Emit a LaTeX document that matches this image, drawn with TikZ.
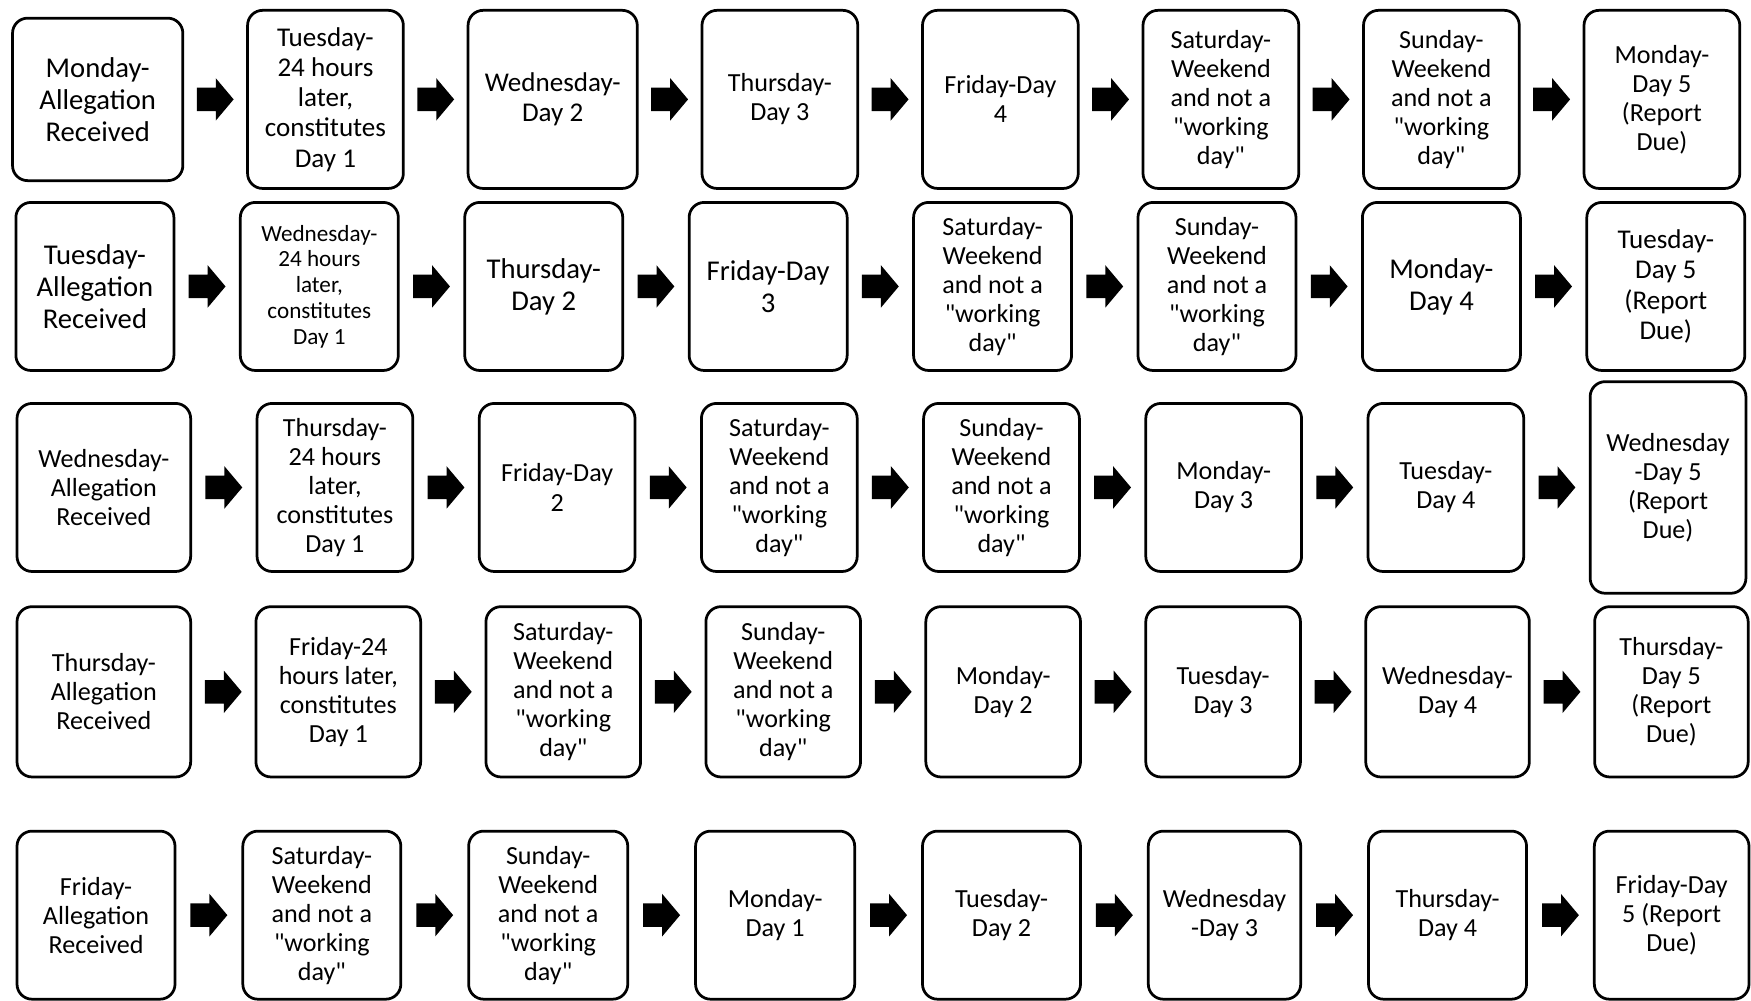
\documentclass[tikz,border=0pt]{standalone}
\usepackage{fontspec}
\setmainfont{Carlito}[Ligatures=TeXOff]
\usepackage{tikz}
\usetikzlibrary{positioning,calc}

\newcommand{\fmid}{\fontsize{13.3}{14.8}\selectfont}
\newcommand{\fplus}{\fontsize{13.8}{15.4}\selectfont}
\newcommand{\fbig}{\fontsize{14.6}{16.3}\selectfont}
\newcommand{\fsmall}{\fontsize{11.8}{13.1}\selectfont}

\begin{document}
\begin{tikzpicture}[
	box/.style={draw, rectangle, rounded corners=0.27cm, line width=1.4pt, align=center, minimum width=2.79cm, minimum height=3.01cm, inner sep=1pt, font=\fmid},
	flow/.style={fill=black, to path={($(\tikztostart.east)!0.5!(\tikztotarget.west)$) ++(-0.33,0.21) -- ++(0.34,0) -- ++(0,0.17) -- ++(0.32,-0.38) -- ++(-0.32,-0.38) -- ++(0,0.17) -- ++(-0.34,0) -- cycle}}
	]
	\useasboundingbox (0,0) rectangle (31.36,-17.92);
	
	%==================== Monday ====================
	\begin{scope}[node distance=1.11cm, box/.append style={minimum height=3.19cm}]
	\node[box, anchor=west, minimum width=3.05cm, minimum height=2.91cm, font=\fbig] (mon0) at (0.2,-1.78) {Monday-\\Allegation\\Received};
	\node[box, right=of mon0, font=\fplus] (mon1) {Tuesday-\\24 hours\\later,\\constitutes\\Day 1};
	\node[box, right=of mon1, minimum width=3.03cm, font=\fplus] (mon2) {Wednesday-\\Day 2};
	\node[box, right=of mon2] (mon3) {Thursday-\\Day 3};
	\node[box, right=of mon3] (mon4) {Friday-Day\\4};
	\node[box, right=of mon4] (mon5) {Saturday-\\Weekend\\and not a\\"working\\day"};
	\node[box, right=of mon5] (mon6) {Sunday-\\Weekend\\and not a\\"working\\day"};
	\node[box, right=of mon6] (mon7) {Monday-\\Day 5\\(Report\\Due)};
	\end{scope}
	
	\fill[flow] (mon0) to (mon1);
	\fill[flow] (mon1) to (mon2);
	\fill[flow] (mon2) to (mon3);
	\fill[flow] (mon3) to (mon4);
	\fill[flow] (mon4) to (mon5);
	\fill[flow] (mon5) to (mon6);
	\fill[flow] (mon6) to (mon7);
	
	%==================== Tuesday ====================
	\begin{scope}[node distance=1.14cm, box/.append style={minimum width=2.83cm}]
	\node[box, anchor=west, font=\fbig] (tue0) at (0.26,-5.13) {Tuesday-\\Allegation\\Received};
	\node[box, right=of tue0, font=\fsmall] (tue1) {Wednesday-\\24 hours\\later,\\constitutes\\Day 1};
	\node[box, right=of tue1, font=\fbig] (tue2) {Thursday-\\Day 2};
	\node[box, right=of tue2, font=\fbig] (tue3) {Friday-Day\\3};
	\node[box, right=of tue3] (tue4) {Saturday-\\Weekend\\and not a\\"working\\day"};
	\node[box, right=of tue4] (tue5) {Sunday-\\Weekend\\and not a\\"working\\day"};
	\node[box, right=of tue5, font=\fbig] (tue6) {Monday-\\Day 4};
	\node[box, right=of tue6, font=\fplus] (tue7) {Tuesday-\\Day 5\\(Report\\Due)};
	\end{scope}
	
	\fill[flow] (tue0) to (tue1);
	\fill[flow] (tue1) to (tue2);
	\fill[flow] (tue2) to (tue3);
	\fill[flow] (tue3) to (tue4);
	\fill[flow] (tue4) to (tue5);
	\fill[flow] (tue5) to (tue6);
	\fill[flow] (tue6) to (tue7);
	
	%==================== Wednesday ====================
	\begin{scope}[node distance=1.14cm]
	\node[box, anchor=west, minimum width=3.11cm] (wed0) at (0.28,-8.73) {Wednesday-\\Allegation\\Received};
	\node[box, right=of wed0] (wed1) {Thursday-\\24 hours\\later,\\constitutes\\Day 1};
	\node[box, right=of wed1] (wed2) {Friday-Day\\2};
	\node[box, right=of wed2] (wed3) {Saturday-\\Weekend\\and not a\\"working\\day"};
	\node[box, right=of wed3] (wed4) {Sunday-\\Weekend\\and not a\\"working\\day"};
	\node[box, right=of wed4] (wed5) {Monday-\\Day 3};
	\node[box, right=of wed5] (wed6) {Tuesday-\\Day 4};
	\node[box, right=of wed6, minimum height=3.79cm] (wed7) {Wednesday\\-Day 5\\(Report\\Due)};
	\end{scope}
	
	\fill[flow] (wed0) to (wed1);
	\fill[flow] (wed1) to (wed2);
	\fill[flow] (wed2) to (wed3);
	\fill[flow] (wed3) to (wed4);
	\fill[flow] (wed4) to (wed5);
	\fill[flow] (wed5) to (wed6);
	\fill[flow] (wed6) to (wed7);
	
	%==================== Thursday ====================
	\begin{scope}[node distance=1.12cm, box/.append style={minimum width=2.77cm, minimum height=3.05cm}]
	\node[box, anchor=west, minimum width=3.11cm] (thu0) at (0.28,-12.39) {Thursday-\\Allegation\\Received};
	\node[box, right=of thu0, minimum width=2.95cm] (thu1) {Friday-24\\hours later,\\constitutes\\Day 1};
	\node[box, right=of thu1] (thu2) {Saturday-\\Weekend\\and not a\\"working\\day"};
	\node[box, right=of thu2] (thu3) {Sunday-\\Weekend\\and not a\\"working\\day"};
	\node[box, right=of thu3] (thu4) {Monday-\\Day 2};
	\node[box, right=of thu4] (thu5) {Tuesday-\\Day 3};
	\node[box, right=of thu5, minimum width=2.93cm] (thu6) {Wednesday-\\Day 4};
	\node[box, right=of thu6, minimum width=2.75cm] (thu7) {Thursday-\\Day 5\\(Report\\Due)};
	\end{scope}
	
	\fill[flow] (thu0) to (thu1);
	\fill[flow] (thu1) to (thu2);
	\fill[flow] (thu2) to (thu3);
	\fill[flow] (thu3) to (thu4);
	\fill[flow] (thu4) to (thu5);
	\fill[flow] (thu5) to (thu6);
	\fill[flow] (thu6) to (thu7);
	
	%==================== Friday ====================
	\begin{scope}[node distance=1.165cm, box/.append style={minimum width=2.83cm}]
	\node[box, anchor=west] (fri0) at (0.28,-16.39) {Friday-\\Allegation\\Received};
	\node[box, right=of fri0] (fri1) {Saturday-\\Weekend\\and not a\\"working\\day"};
	\node[box, right=of fri1, minimum width=2.85cm] (fri2) {Sunday-\\Weekend\\and not a\\"working\\day"};
	\node[box, right=of fri2, minimum width=2.85cm] (fri3) {Monday-\\Day 1};
	\node[box, right=of fri3] (fri4) {Tuesday-\\Day 2};
	\node[box, right=of fri4, minimum width=2.73cm] (fri5) {Wednesday\\-Day 3};
	\node[box, right=of fri5] (fri6) {Thursday-\\Day 4};
	\node[box, right=of fri6, minimum width=2.77cm] (fri7) {Friday-Day\\5 (Report\\Due)};
	\end{scope}
	
	\fill[flow] (fri0) to (fri1);
	\fill[flow] (fri1) to (fri2);
	\fill[flow] (fri2) to (fri3);
	\fill[flow] (fri3) to (fri4);
	\fill[flow] (fri4) to (fri5);
	\fill[flow] (fri5) to (fri6);
	\fill[flow] (fri6) to (fri7);
	
\end{tikzpicture}
\end{document}
